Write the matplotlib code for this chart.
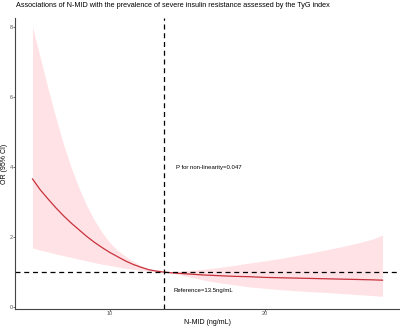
import matplotlib
matplotlib.use("Agg")
import matplotlib.pyplot as plt

# ---------- data -----------------------------------------------------------
nmid = [5.0, 5.5, 6.0, 6.5, 7.0, 7.5, 8.0, 8.5, 9.0, 9.5, 10.0, 10.5, 11.0,
        11.5, 12.0, 12.5, 13.0, 13.5, 14.0, 15.0, 16.0, 17.0, 18.0, 19.0,
        20.0, 21.0, 22.0, 23.0, 24.0, 25.0, 26.0, 27.0, 27.6]
or_est = [3.66, 3.35, 3.09, 2.84, 2.61, 2.40, 2.21, 2.02, 1.85, 1.70, 1.56,
          1.44, 1.32, 1.22, 1.14, 1.07, 1.03, 1.00, 0.98, 0.95, 0.92, 0.90,
          0.88, 0.87, 0.85, 0.84, 0.83, 0.82, 0.81, 0.80, 0.79, 0.78, 0.77]
ci_upper = [8.00, 7.12, 6.25, 5.42, 4.65, 3.98, 3.40, 2.90, 2.48, 2.13, 1.84,
            1.62, 1.45, 1.31, 1.19, 1.10, 1.04, 1.00, 1.01, 1.04, 1.08, 1.13,
            1.19, 1.26, 1.32, 1.39, 1.47, 1.55, 1.64, 1.73, 1.83, 1.95, 2.06]
ci_lower = [1.69, 1.63, 1.58, 1.52, 1.47, 1.42, 1.37, 1.32, 1.27, 1.23, 1.19,
            1.15, 1.11, 1.08, 1.05, 1.03, 1.01, 1.00, 0.97, 0.88, 0.78, 0.70,
            0.64, 0.58, 0.54, 0.50, 0.47, 0.44, 0.42, 0.39, 0.36, 0.33, 0.31]

ref_x = 13.5
x_ticks = [10, 20]
y_ticks = [0, 2, 4, 6, 8]
title = "Associations of N-MID with the prevalence of severe insulin resistance assessed by the TyG index"

# ---------------------------------------------------------------------------
plt.rcParams['font.family'] = ['Liberation Sans', 'DejaVu Sans']

fig = plt.figure(figsize=(4.0, 3.29), dpi=100)
ax = fig.add_axes([0.0375, 0.061, 0.9625, 0.884])

ax.fill_between(nmid, ci_lower, ci_upper, color='#ffe2e5', lw=0)
ax.plot(nmid, or_est, color='#c8323c', lw=0.9)

ax.axvline(ref_x, color='black', lw=0.9, ls=(0, (4, 3)))
ax.axhline(1, color='black', lw=0.9, ls=(0, (4, 3)))

ax.text(14.26, 4.0, "P for non-linearity=0.047", fontsize=4.3, va='center', ha='left')
ax.text(14.1, 0.49, "Reference=13.5ng/mL", fontsize=4.3, va='center', ha='left')

ax.set_xlim(3.87, 28.73)
ax.set_ylim(-0.05, 8.25)
ax.set_xticks(x_ticks)
ax.set_yticks(y_ticks)
ax.tick_params(labelsize=4, colors='#555555', length=1.2, width=0.6, pad=0.4)

for side in ['top', 'right']:
    ax.spines[side].set_visible(False)
for side in ['left', 'bottom']:
    ax.spines[side].set_color('#444444')
    ax.spines[side].set_linewidth(0.8)

ax.set_xlabel("N-MID (ng/mL)", fontsize=5, labelpad=2)
ax.set_ylabel("OR (95% CI)", fontsize=5)
ax.yaxis.set_label_coords(-0.019, 0.5)
fig.text(0.04, 0.982, title, fontsize=5.2, va='center', ha='left')

fig.savefig("out.png", dpi=100)
